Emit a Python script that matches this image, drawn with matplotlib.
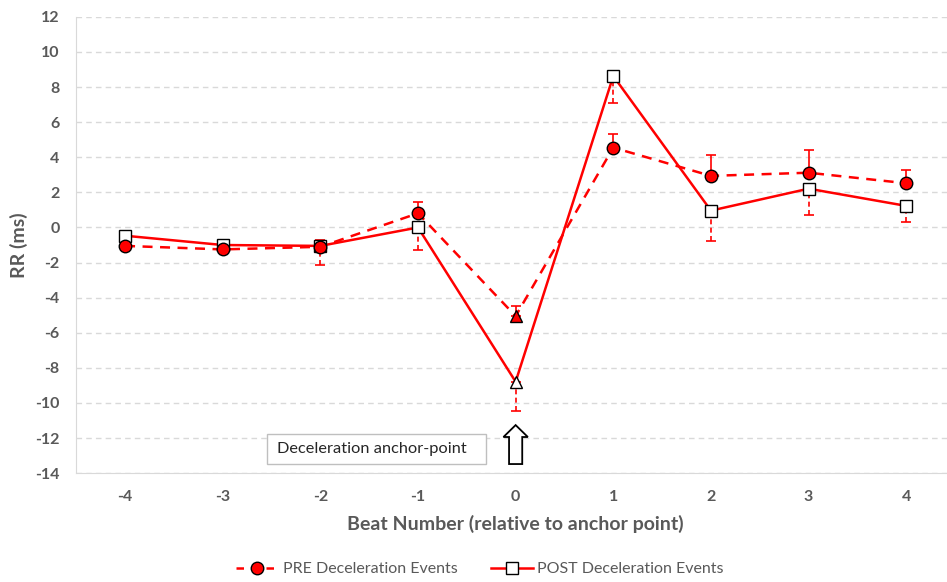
import numpy as np
import matplotlib.pyplot as plt
from matplotlib.lines import Line2D
from matplotlib.patches import FancyArrow, Rectangle

plt.rcParams['font.family'] = ['Lato', 'DejaVu Sans']
plt.rcParams['axes.unicode_minus'] = False

# datos
beats = [-4, -3, -2, -1, 0, 1, 2, 3, 4]
pre = [-1.05, -1.25, -1.1, 0.81, -5.05, 4.55, 2.94, 3.12, 2.52]
pre_err_up = [0.55, 0.3, 0.4, 0.63, 0.6, 0.75, 1.2, 1.3, 0.75]
post = [-0.47, -1.0, -1.05, 0.0, -8.79, 8.63, 0.96, 2.21, 1.23]
post_err_dn = [0.4, 0.3, 1.1, 1.28, 1.67, 1.53, 1.71, 1.52, 0.9]
yticks = list(range(-14, 13, 2))

rojo = '#FF0000'
gris = '#595959'

fig = plt.figure(figsize=(9.47, 5.82), dpi=100)
ax = fig.add_axes([0.0805, 0.187, 0.928, 0.784])

x = np.array(beats)
ceros = np.zeros(len(x))

# POST (linea continua, barras hacia abajo discontinuas)
ax.plot(x, post, color=rojo, lw=1.8, zorder=3)
eb = ax.errorbar(x, post, yerr=[post_err_dn, ceros], fmt='none', ecolor=rojo,
                 elinewidth=1.2, capsize=3.5, capthick=1.2, zorder=2)
eb[2][0].set_linestyle((0, (3, 2)))

# PRE (linea discontinua, barras hacia arriba continuas)
ax.plot(x, pre, color=rojo, lw=1.8, ls=(0, (4, 3)), zorder=3)
ax.errorbar(x, pre, yerr=[ceros, pre_err_up], fmt='none', ecolor=rojo,
            elinewidth=1.2, capsize=3.5, capthick=1.2, zorder=2)

for xi, yi in zip(x, post):
    m = '^' if xi == 0 else 's'
    ax.plot(xi, yi, marker=m, ms=8.5 if m == 's' else 8, mfc='white', mec='black',
            mew=1.0, zorder=4, ls='none')
for xi, yi in zip(x, pre):
    m = '^' if xi == 0 else 'o'
    ax.plot(xi, yi, marker=m, ms=9 if m == 'o' else 8, mfc=rojo, mec='black',
            mew=1.0, zorder=5, ls='none')

# flecha y caja de texto
ax.add_patch(FancyArrow(0, -13.48, 0, 2.22, width=0.135, head_width=0.25,
                        head_length=0.68, length_includes_head=True,
                        facecolor='white', edgecolor='black', lw=1.3, zorder=6))
ax.add_patch(Rectangle((-2.55, -13.48), 2.25, 1.71, facecolor='white',
                       edgecolor='#BFBFBF', lw=1.0, zorder=6))
ax.text(-2.44, -12.63, 'Deceleration anchor-point', fontsize=11.8, color='#262626',
        va='center', ha='left', zorder=7)

ax.set_xlim(-4.5, 4.5)
ax.set_ylim(-14, 12)
ax.set_xticks(beats)
ax.set_yticks(yticks)
ax.tick_params(length=0, labelsize=11.5, labelcolor=gris)
ax.tick_params(axis='y', pad=12)
ax.tick_params(axis='x', pad=12)
for lbl in ax.get_xticklabels() + ax.get_yticklabels():
    lbl.set_fontweight('bold')
ax.grid(axis='y', color='#D9D9D9', ls=(0, (4, 3)), lw=1.0)
ax.set_axisbelow(True)
for s in ['top', 'right']:
    ax.spines[s].set_visible(False)
ax.spines['left'].set_color('#D9D9D9')
ax.spines['bottom'].set_color('#D9D9D9')

ax.set_xlabel('Beat Number (relative to anchor point)', fontsize=14,
              fontweight='bold', color=gris, labelpad=8)
ax.set_ylabel('RR (ms)', fontsize=14, fontweight='bold', color=gris, labelpad=5)

h1 = Line2D([], [], color=rojo, lw=1.8, ls=(0, (3, 3)), marker='o', ms=9,
            mfc=rojo, mec='black')
h2 = Line2D([], [], color=rojo, lw=1.8, marker='s', ms=8.5, mfc='white', mec='black')
fig.legend([h1, h2], ['PRE Deceleration Events', 'POST Deceleration Events'],
           loc='center', bbox_to_anchor=(0.507, 0.022), ncol=2, frameon=False,
           fontsize=11.5, labelcolor=gris, handlelength=2.6, handletextpad=0.3,
           columnspacing=2.1)

fig.savefig('out.png', dpi=100)
